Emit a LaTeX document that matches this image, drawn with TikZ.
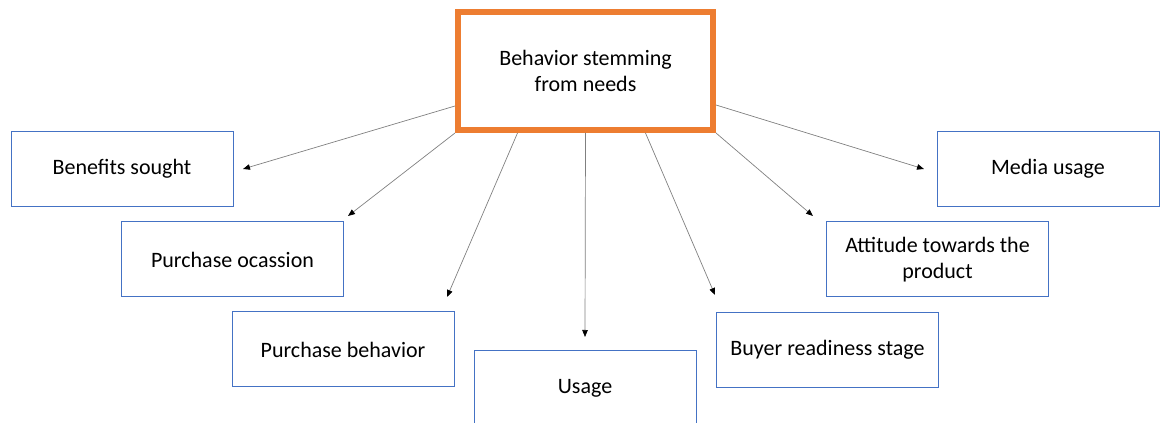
\documentclass[tikz,border=0pt]{standalone}
\usepackage{fontspec}
\setmainfont{Carlito}
\usetikzlibrary{arrows.meta,shadows}
\definecolor{boxblue}{HTML}{4472C4}
\definecolor{hub}{HTML}{ED7D31}
\definecolor{linegray}{HTML}{808080}
\tikzset{
  leaf/.style={draw=boxblue, line width=1pt, fill=white, minimum width=222pt, minimum height=75pt, inner sep=0pt, align=center, font=\fontsize{22}{26.4}\selectfont},
  hubbox/.style={draw=hub, line width=6pt, fill=white, minimum width=255pt, minimum height=118pt, inner sep=0pt, align=center, font=\fontsize{22}{26.4}\selectfont, drop shadow={shadow xshift=1.5pt, shadow yshift=-1.5pt, opacity=0.25}},
  conn/.style={draw=linegray, line width=0.7pt, -{Triangle[length=7pt,width=5.5pt,color=black]}}
}
\begin{document}
\begin{tikzpicture}[x=1pt,y=1pt]
\useasboundingbox (0,0) rectangle (1165,423);
\clip (0,0) rectangle (1165,423);
\node[hubbox] (top) at (585.5,352) {Behavior stemming\\from needs};
\node[leaf] (benefits) at (122,254) {Benefits sought};
\node[leaf] (occasion) at (232.5,163.5) {Purchase ocassion};
\node[leaf] (pbehav) at (343,73.5) {Purchase behavior};
\node[leaf] (usage) at (585,35) {Usage};
\node[leaf] (buyer) at (827.5,73) {Buyer readiness stage};
\node[leaf] (attitude) at (937.5,163.5) {Attitude towards the\\product};
\node[leaf] (media) at (1048,254) {Media usage};
\coordinate (tbenefits) at (243,254);
\coordinate (toccasion) at (348,207);
\coordinate (tpbehav) at (447,126);
\coordinate (tusage) at (585,86);
\coordinate (tbuyer) at (715,128);
\coordinate (tattitude) at (813,207);
\coordinate (tmedia) at (924,254);
\draw[conn] ([yshift=-35pt]top.west) -- (tbenefits);
\draw[conn] (top.south west) -- (toccasion);
\draw[conn] ([xshift=-68pt]top.south) -- (tpbehav);
\draw[conn] (top.south) -- (tusage);
\draw[conn] ([xshift=60pt]top.south) -- (tbuyer);
\draw[conn] (top.south east) -- (tattitude);
\draw[conn] ([yshift=-34pt]top.east) -- (tmedia);
\end{tikzpicture}
\end{document}
